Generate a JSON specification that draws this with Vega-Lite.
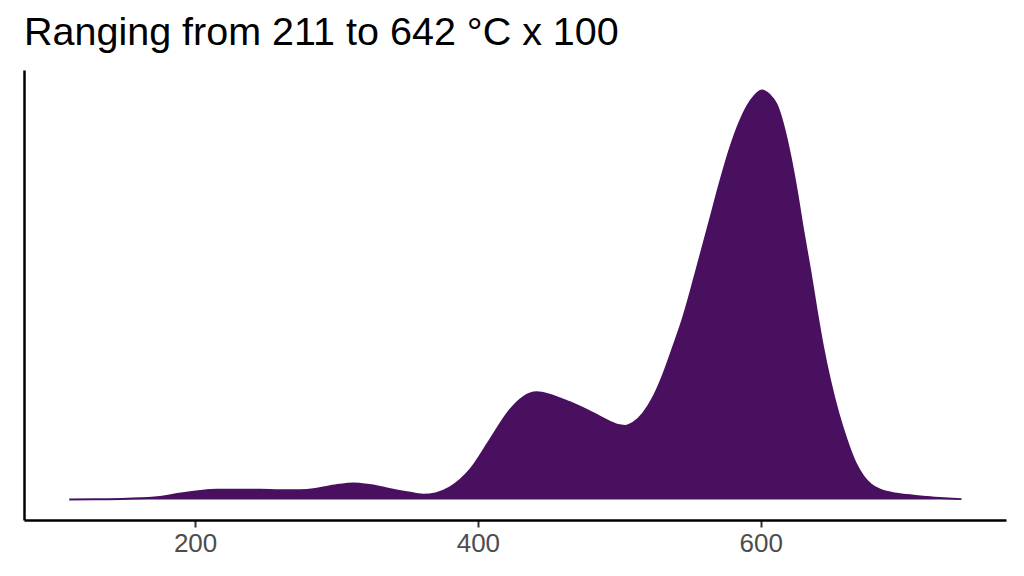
{
  "$schema": "https://vega.github.io/schema/vega-lite/v6.json",
  "width": 982,
  "height": 450,
  "autosize": "none",
  "padding": {"left": 24, "top": 70, "right": 18, "bottom": 56},
  "background": "white",
  "title": {
    "text": "Ranging from 211 to 642 °C x 100",
    "anchor": "start",
    "frame": "group",
    "font": "Liberation Sans",
    "fontSize": 39.5,
    "fontWeight": "normal",
    "color": "#000000",
    "offset": 17
  },
  "config": {
    "view": {"stroke": null}
  },
  "data": {
    "values": [
      {"temp": 111, "density": 0},
      {"temp": 130, "density": 0.0005},
      {"temp": 151.7, "density": 0.002},
      {"temp": 175, "density": 0.0065},
      {"temp": 190, "density": 0.015},
      {"temp": 203.5, "density": 0.021},
      {"temp": 215.3, "density": 0.024},
      {"temp": 230, "density": 0.024},
      {"temp": 246, "density": 0.024},
      {"temp": 260, "density": 0.023},
      {"temp": 274.2, "density": 0.023},
      {"temp": 285, "density": 0.026},
      {"temp": 293, "density": 0.031},
      {"temp": 302, "density": 0.036},
      {"temp": 312, "density": 0.039},
      {"temp": 322, "density": 0.036},
      {"temp": 330.8, "density": 0.031},
      {"temp": 340, "density": 0.024},
      {"temp": 349.7, "density": 0.018},
      {"temp": 361.4, "density": 0.012},
      {"temp": 370, "density": 0.015},
      {"temp": 380, "density": 0.029},
      {"temp": 394.5, "density": 0.073},
      {"temp": 408.6, "density": 0.146},
      {"temp": 422.7, "density": 0.219},
      {"temp": 432, "density": 0.25},
      {"temp": 441.6, "density": 0.262},
      {"temp": 450, "density": 0.257},
      {"temp": 458, "density": 0.247},
      {"temp": 467, "density": 0.235},
      {"temp": 477, "density": 0.219},
      {"temp": 485, "density": 0.205},
      {"temp": 493.5, "density": 0.19},
      {"temp": 499, "density": 0.182},
      {"temp": 504, "density": 0.18},
      {"temp": 510, "density": 0.188},
      {"temp": 517, "density": 0.211},
      {"temp": 524, "density": 0.25},
      {"temp": 531, "density": 0.305},
      {"temp": 538, "density": 0.372},
      {"temp": 545.3, "density": 0.446},
      {"temp": 551, "density": 0.515},
      {"temp": 557, "density": 0.592},
      {"temp": 564, "density": 0.682},
      {"temp": 571.2, "density": 0.775},
      {"temp": 578, "density": 0.855},
      {"temp": 585.4, "density": 0.925},
      {"temp": 593, "density": 0.975},
      {"temp": 600.7, "density": 1.0},
      {"temp": 606, "density": 0.99},
      {"temp": 611.3, "density": 0.965},
      {"temp": 616, "density": 0.915},
      {"temp": 620.7, "density": 0.844},
      {"temp": 625.5, "density": 0.755},
      {"temp": 630.1, "density": 0.657},
      {"temp": 635, "density": 0.56},
      {"temp": 639.6, "density": 0.462},
      {"temp": 644, "density": 0.375},
      {"temp": 649, "density": 0.292},
      {"temp": 655, "density": 0.21},
      {"temp": 660.8, "density": 0.146},
      {"temp": 667, "density": 0.09},
      {"temp": 672.6, "density": 0.057},
      {"temp": 678, "density": 0.037},
      {"temp": 684.4, "density": 0.024},
      {"temp": 693, "density": 0.016},
      {"temp": 703.3, "density": 0.011},
      {"temp": 715, "density": 0.007},
      {"temp": 726.8, "density": 0.004},
      {"temp": 742, "density": 0.001}
    ]
  },
  "encoding": {
    "x": {
      "field": "temp",
      "type": "quantitative",
      "scale": {"domain": [79, 773.5], "nice": false, "zero": false},
      "axis": {
        "title": null,
        "values": [200, 400, 600],
        "grid": false,
        "domainColor": "#000000",
        "domainWidth": 2.5,
        "tickColor": "#333333",
        "tickWidth": 2,
        "tickSize": 7,
        "labelFont": "Liberation Sans",
        "labelFontSize": 26,
        "labelColor": "#4D4D4D",
        "labelPadding": 3
      }
    },
    "y": {
      "field": "density",
      "type": "quantitative",
      "scale": {"domain": [-0.05, 1.05], "nice": false, "zero": false},
      "axis": {
        "title": null,
        "labels": false,
        "ticks": false,
        "grid": false,
        "domainColor": "#000000",
        "domainWidth": 2.5
      }
    }
  },
  "layer": [
    {
      "mark": {"type": "area", "color": "#4A1060", "interpolate": "monotone", "opacity": 1}
    },
    {
      "mark": {"type": "line", "color": "#4A1060", "interpolate": "monotone", "strokeWidth": 2}
    }
  ]
}
